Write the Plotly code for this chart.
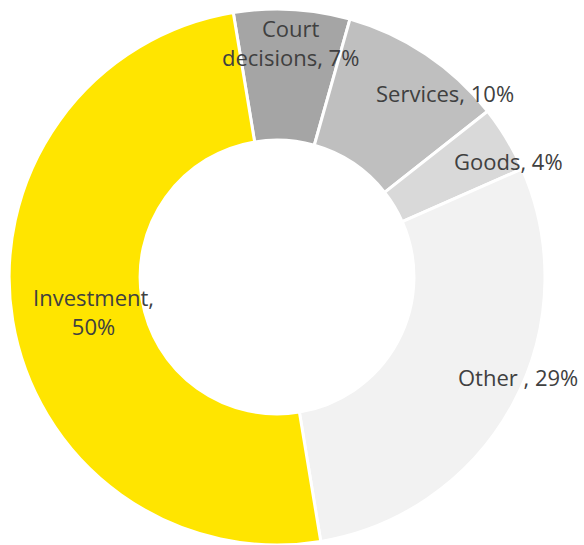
import plotly.graph_objects as go

categories = ["Court decisions", "Services", "Goods", "Other ", "Investment"]
shares = [7, 10, 4, 29, 50]
colors = ["#A5A5A5", "#BFBFBF", "#D9D9D9", "#F2F2F2", "#FFE500"]
label_texts = ["Court<br>decisions, 7%", "Services, 10%", "Goods, 4%", "Other , 29%", "Investment,<br>50%"]
# label centre positions in pixels (x from left, y from top)
label_px = [(290, 42), (445, 93), (508, 161), (518, 377), (93, 311)]

W, H = 584, 545
cx, cy, r = 277, 277, 268

fig = go.Figure(go.Pie(
    labels=categories,
    values=shares,
    sort=False,
    direction="clockwise",
    rotation=-9.4,
    hole=0.511,
    marker=dict(colors=colors, line=dict(color="white", width=3)),
    textinfo="none",
    hoverinfo="label+percent",
    showlegend=False,
    domain=dict(x=[(cx - r) / W, (cx + r) / W], y=[(H - cy - r) / H, (H - cy + r) / H]),
))

for txt, (px, py) in zip(label_texts, label_px):
    fig.add_annotation(
        x=px / W, y=1 - py / H, xref="paper", yref="paper",
        text=txt, showarrow=False, align="center",
        xanchor="center", yanchor="middle",
        font=dict(family="Open Sans", size=22, color="#404040"),
    )

fig.update_layout(
    width=W, height=H,
    margin=dict(l=0, r=0, t=0, b=0),
    paper_bgcolor="white", plot_bgcolor="white",
)

fig.write_html(
    "out.html",
    config={"displayModeBar": False},
    post_script="document.body.style.margin='0';document.body.style.overflow='hidden';",
)
